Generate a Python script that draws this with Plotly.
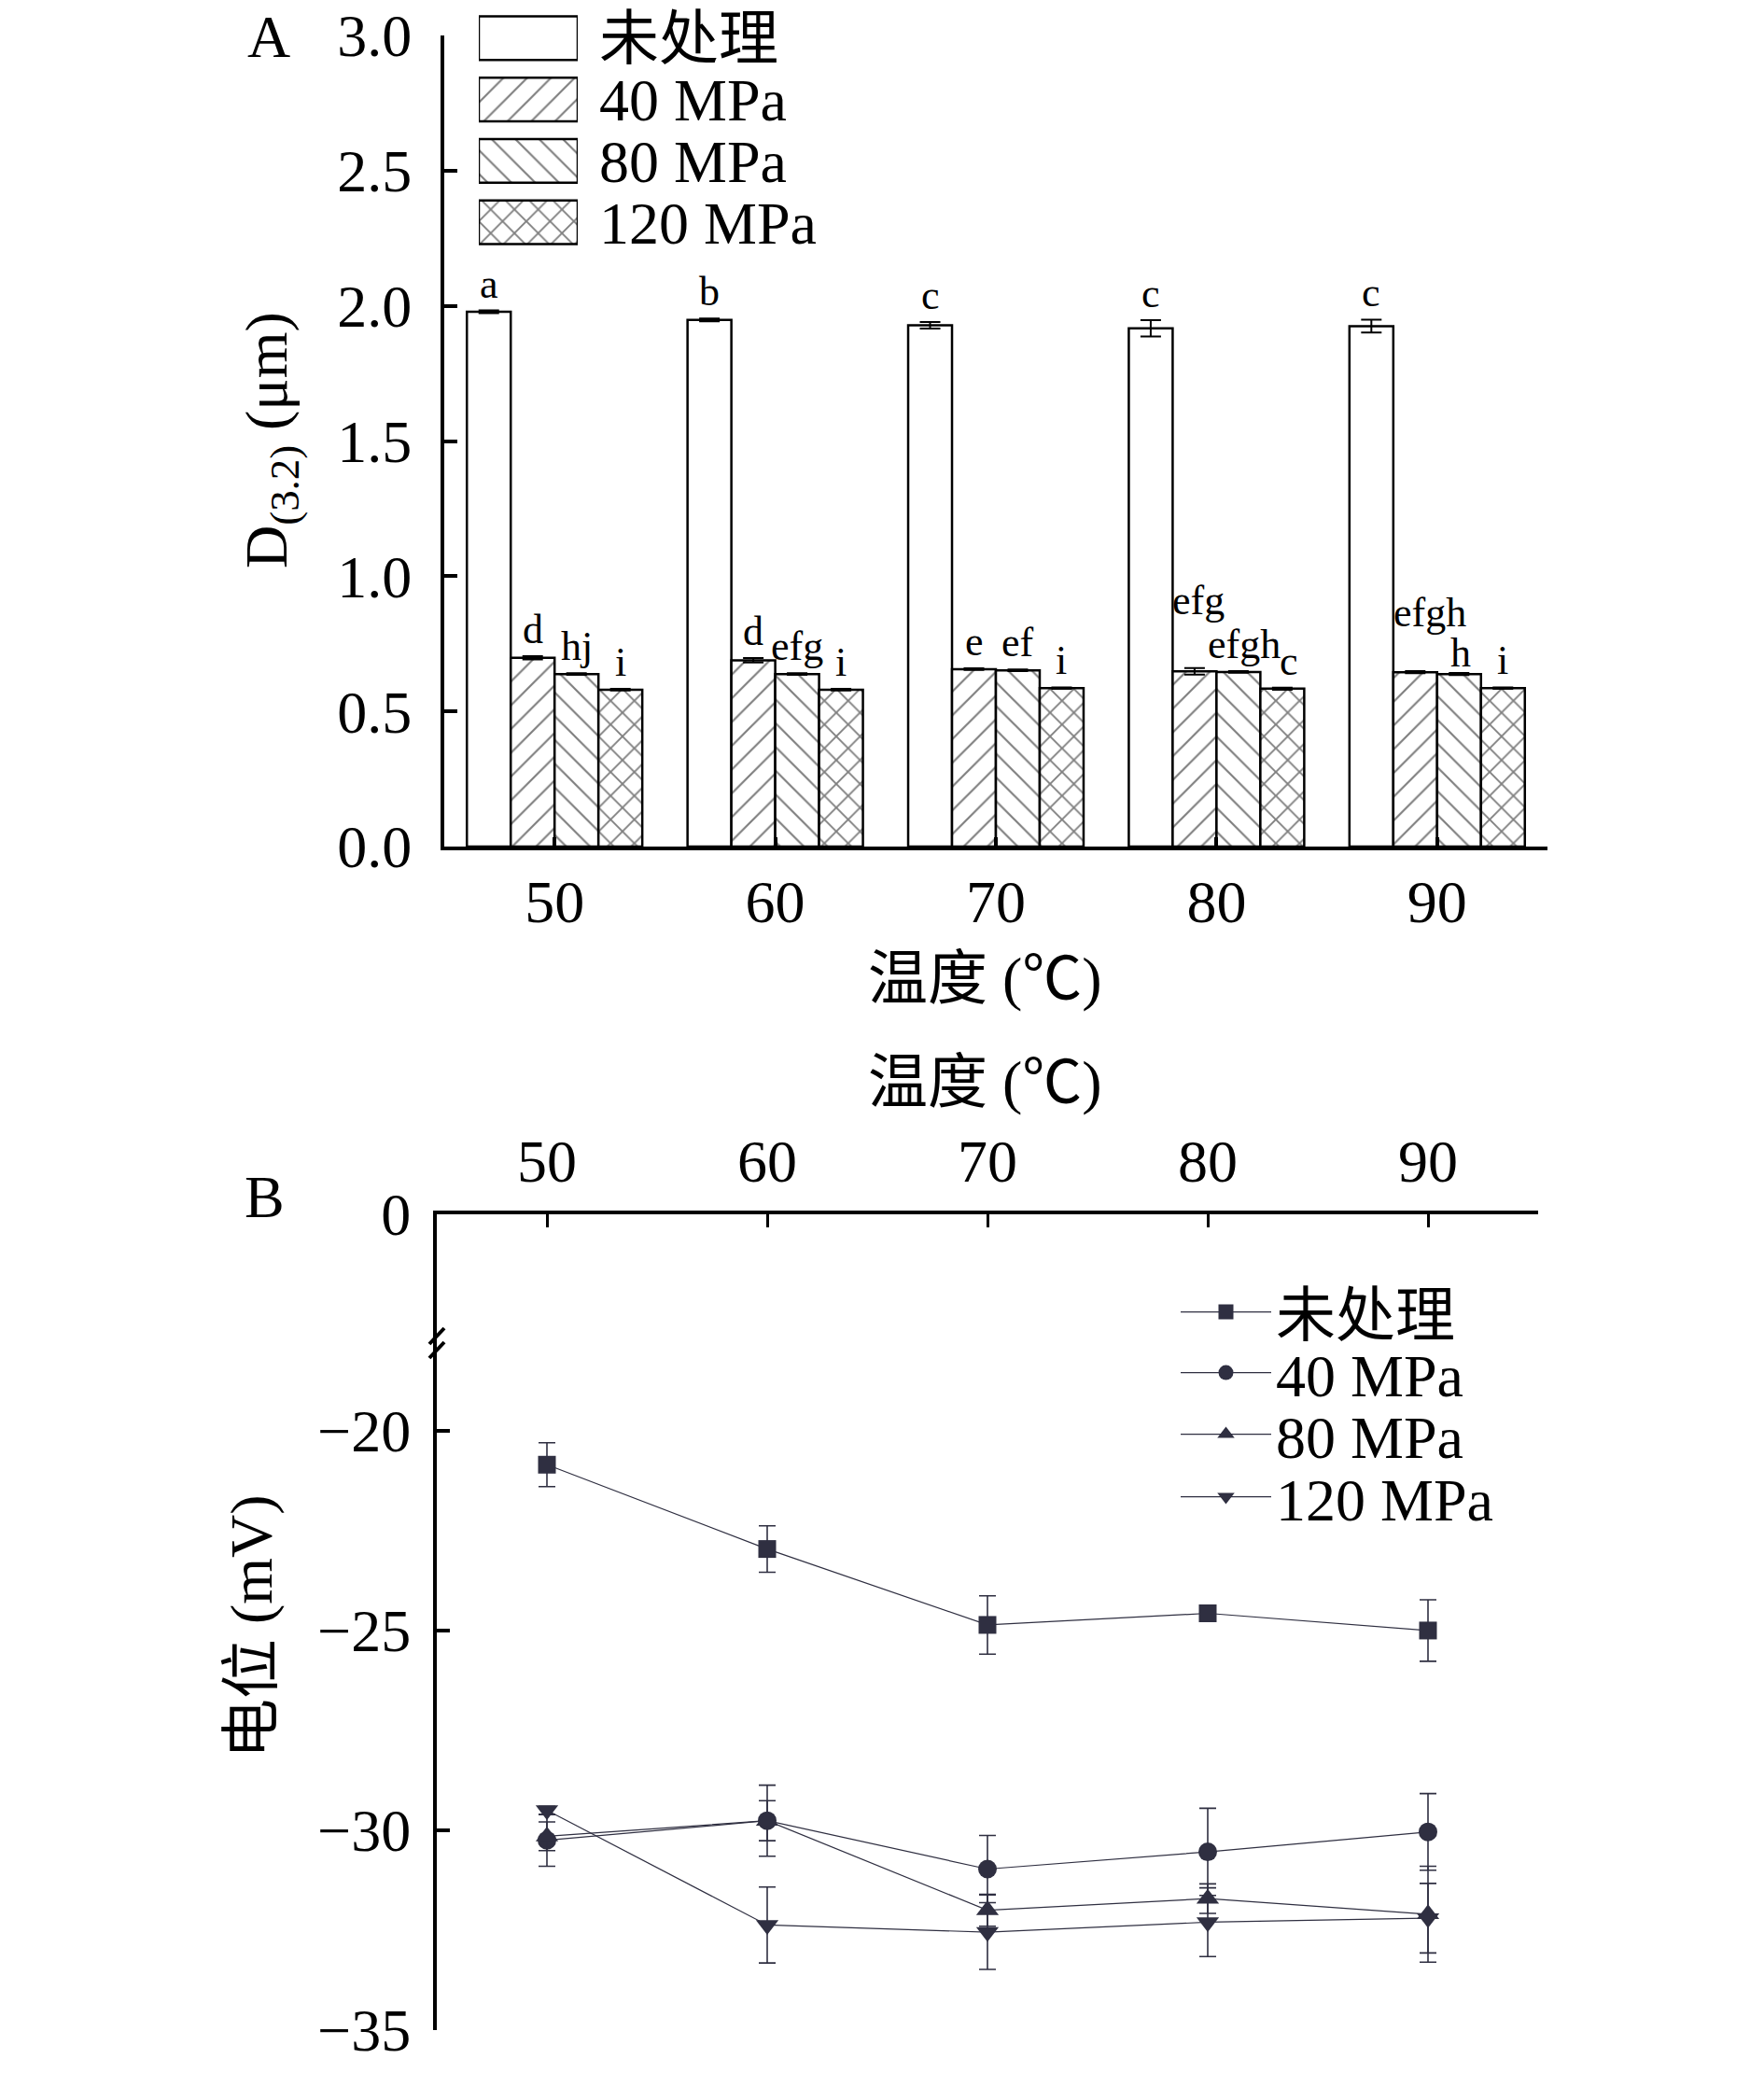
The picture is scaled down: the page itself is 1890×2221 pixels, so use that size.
import plotly.graph_objects as go

# ---------------- data ----------------
temps = [50, 60, 70, 80, 90]
temp_labels = ["50", "60", "70", "80", "90"]
series_names = ["未处理", "40 MPa", "80 MPa", "120 MPa"]

# Panel A: D(3,2) (um)
d32_untreated = [1.978, 1.948, 1.928, 1.917, 1.925]
d32_40 = [0.698, 0.689, 0.656, 0.648, 0.645]
d32_80 = [0.638, 0.638, 0.652, 0.646, 0.638]
d32_120 = [0.580, 0.580, 0.586, 0.584, 0.586]
err_untreated = [0.005, 0.005, 0.012, 0.030, 0.024]
err_40 = [0.006, 0.008, 0.003, 0.012, 0.004]
err_80 = [0.003, 0.003, 0.003, 0.003, 0.004]
err_120 = [0.003, 0.003, 0.003, 0.004, 0.003]
letters_untreated = ["a", "b", "c", "c", "c"]
letters_40 = ["d", "d", "e", "efg", "efgh"]
letters_80 = ["hj", "efg", "ef", "efgh", "h"]
letters_120 = ["i", "i", "i", "c", "i"]

# Panel B: zeta potential (mV)
zeta_untreated = [-20.85, -22.96, -24.86, -24.57, -25.00]
zeta_40 = [-30.25, -29.76, -30.97, -30.54, -30.04]
zeta_80 = [-30.15, -29.76, -32.00, -31.71, -32.10]
zeta_120 = [-29.50, -32.37, -32.55, -32.30, -32.20]
zerr_untreated = [0.55, 0.58, 0.73, 0.12, 0.77]
zerr_40 = [0.65, 0.89, 0.84, 1.09, 0.96]
zerr_80 = [0.36, 0.50, 0.40, 0.37, 1.20]
zerr_120 = [0.10, 0.95, 0.93, 0.86, 0.87]

# ---------------- style ----------------
W, H = 1890, 2221
OFF = 8  # page body margin
def fx(px):
    return min(1.0, max(0.0, (px - OFF) / W))
def fy(py):
    return min(1.0, max(0.0, 1 - (py - OFF) / H))

FONT = "Liberation Serif, Noto Sans CJK SC, serif"
BIG = 64
LET = 44
DARK = "#2f2f41"
patterns = ["", "/", "\\", "x"]
solid = [0, 0.12, 0.12, 0.2]
PSIZE = 18
bargap = 0.205

fig = go.Figure()

# ---------------- panel A bars ----------------
idx = list(range(len(temps)))
A_vals = [d32_untreated, d32_40, d32_80, d32_120]
A_errs = [err_untreated, err_40, err_80, err_120]
A_letters = [letters_untreated, letters_40, letters_80, letters_120]
for j in range(4):
    fig.add_trace(go.Bar(
        x=idx, y=A_vals[j], name=series_names[j], showlegend=False,
        xaxis="x", yaxis="y",
        error_y=dict(type="data", array=A_errs[j], color="black", thickness=2, width=11),
        marker=dict(color="white", line=dict(color="black", width=2.5),
                    pattern=dict(shape=patterns[j], fgcolor="black", bgcolor="white",
                                 size=PSIZE, solidity=solid[j])),
    ))

# letter annotations (nudges keep crowded labels apart, as in the original)
nudges = {(3, 1): (4, 44), (4, 1): (16, 34), (4, 2): (2, -7), (3, 2): (6, 0), (3, 3): (7, 0)}
bw = (1 - bargap) / 4
for j in range(4):
    for i in range(5):
        dx, dy = nudges.get((i, j), (0, 0))
        fig.add_annotation(
            x=i + (j - 1.5) * bw, y=A_vals[j][i] + A_errs[j][i], xref="x", yref="y",
            text=A_letters[j][i], showarrow=False, yanchor="bottom", xanchor="center",
            xshift=dx, yshift=2 + dy, font=dict(family=FONT, size=LET, color="black"))

# legend swatches for panel A (helper axes)
fig.add_trace(go.Bar(
    x=[1, 1, 1, 1], y=series_names, orientation="h", width=0.713, showlegend=False,
    xaxis="x3", yaxis="y5", hoverinfo="skip",
    marker=dict(color="white", line=dict(color="black", width=2.5),
                pattern=dict(shape=patterns, fgcolor="black", bgcolor="white",
                             size=PSIZE, solidity=solid)),
))

# ---------------- panel B ----------------
B_vals = [zeta_untreated, zeta_40, zeta_80, zeta_120]
B_errs = [zerr_untreated, zerr_40, zerr_80, zerr_120]
symbols = ["square", "circle", "triangle-up", "triangle-down"]
msizes = [19, 20, 21, 21]
leg_keys = ["legend", "legend2", "legend3", "legend4"]
for j in range(4):
    fig.add_trace(go.Scatter(
        x=temps, y=B_vals[j], name=series_names[j], mode="lines+markers",
        xaxis="x2", yaxis="y3", legend=leg_keys[j], cliponaxis=False,
        line=dict(color=DARK, width=1.2),
        marker=dict(symbol=symbols[j], size=msizes[j], color=DARK),
        error_y=dict(type="data", array=B_errs[j], color=DARK, thickness=1.6, width=9),
    ))
fig.add_trace(go.Scatter(x=[], y=[], xaxis="x2", yaxis="y4", showlegend=False))

axis_common = dict(showline=True, linecolor="black", showgrid=False, zeroline=False,
                   ticks="inside", tickcolor="black", ticklabeloverflow="allow",
                   tickfont=dict(family=FONT, size=BIG, color="black"))

fig.update_layout(
    width=W, height=H, margin=dict(l=0, r=0, t=0, b=0, autoexpand=False),
    paper_bgcolor="white", plot_bgcolor="white",
    barmode="group", bargap=bargap, bargroupgap=0,
    font=dict(family=FONT, size=BIG, color="black"),
    xaxis=dict(domain=[fx(476), fx(1658)], range=[-0.5, 4.5], tickvals=idx, ticktext=temp_labels,
               anchor="y", linewidth=4, ticklen=10, tickwidth=4, ticklabelstandoff=0, **axis_common),
    yaxis=dict(domain=[fy(907), fy(38)], range=[0, 3.0], dtick=0.5, tick0=0, tickformat=".1f",
               anchor="x", linewidth=4, ticklen=14, tickwidth=4, ticklabelstandoff=18, **axis_common),
    xaxis2=dict(domain=[fx(468), fx(1648)], range=[45, 95], tickvals=temps, side="top",
                anchor="y4", linewidth=4, ticklen=14, tickwidth=3, ticklabelstandoff=5, **axis_common),
    yaxis3=dict(domain=[fy(2175), fy(1440)], range=[-35, -17.83], tickvals=[-35, -30, -25, -20],
                anchor="x2", linewidth=4, ticklen=14, tickwidth=4, ticklabelstandoff=11, **axis_common),
    yaxis4=dict(domain=[fy(1440), fy(1301)], range=[-3.25, 0], tickvals=[0],
                anchor="x2", linewidth=4, ticklen=14, tickwidth=4, ticklabelstandoff=11, **axis_common),
    xaxis3=dict(domain=[fx(513), fx(619)], range=[0, 1], visible=False, anchor="y5"),
    yaxis5=dict(domain=[fy(271), fy(2)], autorange="reversed", anchor="x3", side="right",
                tickmode="array", tickvals=series_names, ticktext=series_names,
                showline=False, showgrid=False, zeroline=False, ticks="", ticklabelstandoff=22,
                ticklabeloverflow="allow",
                tickfont=dict(family=FONT, size=BIG, color="black")),
)

rows = [1406, 1471, 1537, 1604]
for k, key in enumerate(leg_keys):
    fig.update_layout(**{key: dict(x=fx(1260), y=fy(rows[k]), xanchor="left", yanchor="middle",
                                    bgcolor="rgba(0,0,0,0)", itemwidth=97,
                                    font=dict(family=FONT, size=BIG, color="black"))})

# titles and panel labels
def label(text, px, py, angle=0, size=BIG):
    fig.add_annotation(x=fx(px), y=fy(py), xref="paper", yref="paper", text=text,
                       showarrow=False, xanchor="center", yanchor="middle", textangle=angle,
                       font=dict(family=FONT, size=size, color="black"))

label("A", 288, 40)
label("温度 (℃)", 1055, 1048)
label("D<sub>(3.2)</sub> (μm)", 290, 472, angle=-90)
label("B", 283, 1282)
label("温度 (℃)", 1055, 1159)
label("电位 (mV)", 269, 1743, angle=-90)

# axis break marks
for y0, y1 in [(1440, 1423), (1455, 1438)]:
    fig.add_shape(type="line", xref="paper", yref="paper", x0=fx(460), y0=fy(y0), x1=fx(476), y1=fy(y1),
                  line=dict(color="black", width=4))

fig.write_html("out.html")
